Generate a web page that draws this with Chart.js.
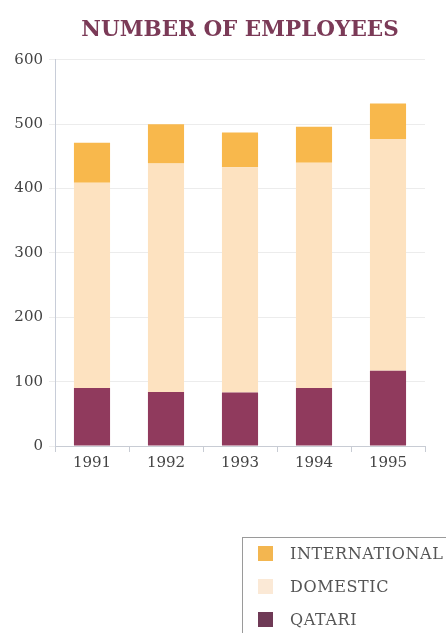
<!DOCTYPE html>
<html>
<head>
<meta charset="utf-8">
<title>Number of employees</title>
<script src="https://cdn.jsdelivr.net/npm/chart.js@4/dist/chart.umd.min.js"></script>
<style>
  html, body {
    margin: 0;
    padding: 0;
    background: #fff;
  }
  #wrap {
    position: relative;
    width: 446px;
    height: 633px;
    overflow: hidden;
  }
  #legend {
    position: absolute;
    left: 242px;
    top: 537px;
    width: 230px;
    height: 120px;
    border: 1px solid #9a9a9a;
    box-sizing: border-box;
    font-family: "DejaVu Serif", serif;
    font-size: 16px;
    letter-spacing: 0.6px;
    color: #555;
  }
  #legend .row {
    position: absolute;
    left: 15px;
    height: 16px;
    line-height: 16px;
    white-space: nowrap;
  }
  #legend .box {
    display: inline-block;
    width: 15px;
    height: 15px;
    vertical-align: top;
    margin-right: 17px;
  }
</style>
</head>
<body>
<div id="wrap">
  <canvas id="myChart" width="446" height="633"></canvas>
  <div id="legend"></div>
</div>
<script>
"use strict";

const years = ["1991", "1992", "1993", "1994", "1995"];
const qatari = [90, 84, 83, 90, 117];
const domestic = [319, 355, 350, 350, 360];
const international = [62, 61, 54, 56, 55];
const yTicks = [0, 100, 200, 300, 400, 500, 600];

const serif = "'DejaVu Serif', serif";

const data = {
  labels: years,
  datasets: [
    {
      label: "QATARI",
      data: qatari,
      backgroundColor: "#903a5d",
      legendColor: "#6f3a56",
    },
    {
      label: "DOMESTIC",
      data: domestic,
      backgroundColor: "#fde2c0",
      legendColor: "#fbe9d6",
    },
    {
      label: "INTERNATIONAL",
      data: international,
      backgroundColor: "#f8b84c",
      legendColor: "#f3b650",
    },
  ],
};

const config = {
  type: "bar",
  data: data,
  options: {
    responsive: false,
    animation: false,
    categoryPercentage: 0.8,
    barPercentage: 0.61,
    layout: {
      padding: { left: 0, right: 21, top: 0, bottom: 0 },
    },
    plugins: {
      legend: { display: false },
      tooltip: { enabled: false },
      title: {
        display: true,
        fullSize: false,
        text: "NUMBER OF EMPLOYEES",
        color: "#7b3a57",
        font: { family: serif, size: 21.5, weight: "bold" },
        padding: { top: 18, bottom: 16 },
        align: "center",
      },
    },
    scales: {
      x: {
        stacked: true,
        offset: true,
        grid: {
          offset: true,
          drawOnChartArea: false,
          tickLength: 6,
          color: "#c8ccd4",
        },
        border: { color: "#c8ccd4" },
        ticks: {
          color: "#444",
          font: { family: serif, size: 15 },
          padding: 2,
        },
        afterFit: function (scale) {
          scale.height = 187;
        },
      },
      y: {
        stacked: true,
        min: 0,
        max: 600,
        afterBuildTicks: function (scale) {
          scale.ticks = yTicks.map((v) => ({ value: v }));
        },
        grid: {
          color: "#ececec",
          tickLength: 6,
        },
        border: { color: "#c8cdd8" },
        ticks: {
          color: "#444",
          font: { family: serif, size: 15 },
          padding: 6,
        },
        afterFit: function (scale) {
          scale.width = 55;
        },
      },
    },
  },
};

const canvasChart = document.getElementById("myChart");
const chart = new Chart(canvasChart, config);

// legend built from the datasets, top row is the top of the stack
function renderLegend() {
  const legend = document.getElementById("legend");
  const sets = chart.data.datasets.slice().reverse();
  for (let i = 0; i < sets.length; i++) {
    const row = document.createElement("div");
    row.className = "row";
    row.style.top = 8 + i * 33 + "px";
    const box = document.createElement("span");
    box.className = "box";
    box.style.background = sets[i].legendColor;
    row.appendChild(box);
    row.appendChild(document.createTextNode(sets[i].label));
    legend.appendChild(row);
  }
}

renderLegend();
</script>
</body>
</html>
